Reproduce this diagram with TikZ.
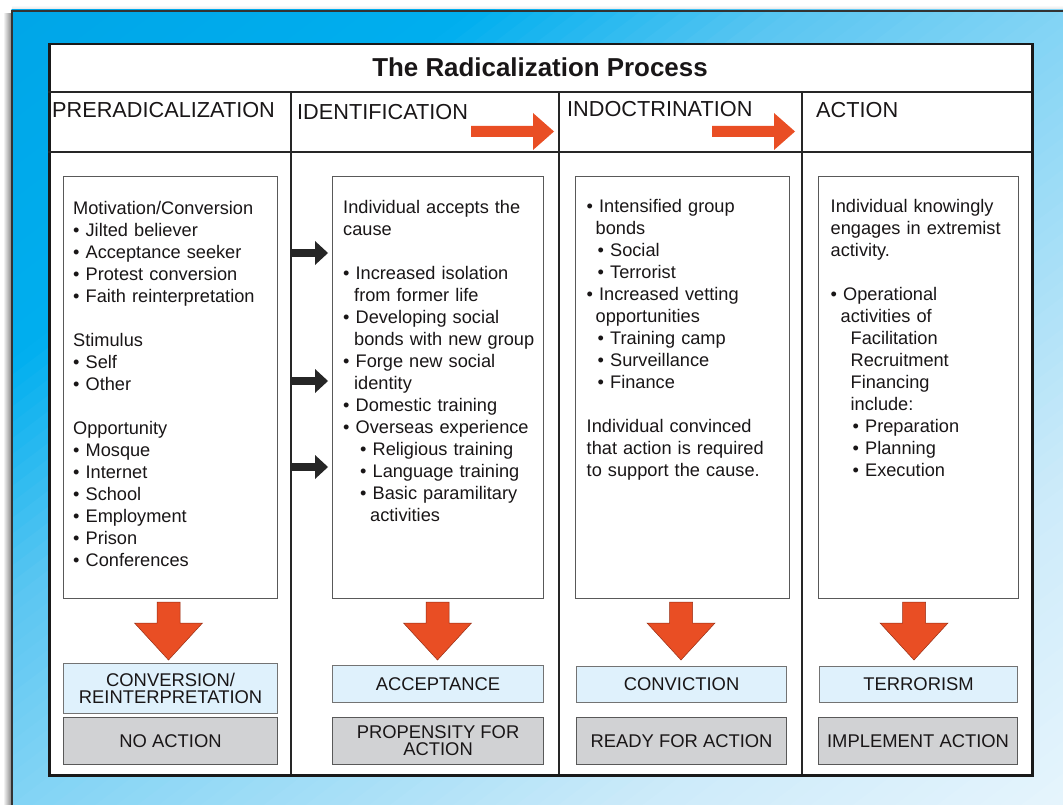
\documentclass[tikz,border=0pt]{standalone}
\usepackage{fontspec}
\setmainfont{Liberation Sans}
\definecolor{org}{RGB}{233,78,36}
\definecolor{orgd}{RGB}{150,45,20}
\definecolor{resblue}{RGB}{223,241,252}
\definecolor{resgray}{RGB}{209,210,212}
\definecolor{txt}{RGB}{25,22,23}
\begin{document}
\begin{tikzpicture}[x=1pt,y=-1pt,
  frameline/.style={line width=2pt, draw=black!85},
  cbox/.style={draw=black!65, line width=1.1pt, fill=white, inner sep=0pt, anchor=north west},
  rbox/.style={draw=black!55, line width=1.1pt, fill=resblue, inner sep=0pt, anchor=north west, align=center, text=txt, font=\fontsize{18.4}{17}\selectfont},
  gbox/.style={rbox, fill=resgray, draw=black!65},
  head/.style={anchor=base west, inner sep=0pt, text=txt, font=\fontsize{21.7}{25}\selectfont},
  body/.style={anchor=base west, inner sep=0pt, text=txt, text width=240pt, align=left, font=\fontsize{18.2}{22}\selectfont},
  orgarrow/.style={fill=org, draw=orgd, line width=0.5pt},
  blkarrow/.style={fill=black!85}
]
\useasboundingbox (0,0) rectangle (1063,805);
\fill[white] (0,0) rectangle (1063,805);
% shadow and blue panel
\shade[left color=white, right color=black!45] (3,14) rectangle (11,805);
\shade[top color=white, bottom color=black!12] (12,5) rectangle (1063,10);
\begin{scope}
  \clip (11,10) rectangle (1063,805);
  \foreach \i in {0,...,99}{
    \pgfmathsetmacro{\fa}{\i/100}
    \pgfmathsetmacro{\fb}{(\i+1.3)/100}
    \pgfmathsetmacro{\fm}{(\i+0.5)/100}
    \pgfmathtruncatemacro{\cR}{\fm<0.22 ? 0 : (\fm<0.37 ? 90*(\fm-0.22)/0.15 : (\fm<0.5 ? 90+40*(\fm-0.37)/0.13 : (\fm<0.8 ? 130+75*(\fm-0.5)/0.3 : 205+25*(\fm-0.8)/0.2)))}
    \pgfmathtruncatemacro{\cG}{\fm<0.22 ? 166+9*\fm/0.22 : (\fm<0.37 ? 175+23*(\fm-0.22)/0.15 : (\fm<0.5 ? 198+14*(\fm-0.37)/0.13 : (\fm<0.8 ? 212+23*(\fm-0.5)/0.3 : 235+10*(\fm-0.8)/0.2)))}
    \pgfmathtruncatemacro{\cB}{\fm<0.22 ? 232+7*\fm/0.22 : (\fm<0.37 ? 239+3*(\fm-0.22)/0.15 : (\fm<0.5 ? 242+3*(\fm-0.37)/0.13 : (\fm<0.8 ? 245+5*(\fm-0.5)/0.3 : 250+3*(\fm-0.8)/0.2)))}
    \definecolor{bandc}{RGB}{\cR,\cG,\cB}
    \fill[bandc] ({11+1052*(2*\fa+0.1)},-69.5) -- ({11+1052*(2*\fa-2.1)},1679.5)
       -- ({11+1052*(2*\fb-2.1)},1679.5) -- ({11+1052*(2*\fb+0.1)},-69.5) -- cycle;
  }
\end{scope}
\draw[black!80, line width=2pt] (12,805) -- (12,11) -- (1063,11);

% main frame
\node[draw=black!90, line width=2.5pt, fill=white, inner sep=0pt, anchor=north west,
      minimum width=983pt, minimum height=731pt] (frame) at (48,43) {};
\draw[frameline] (48,92) -- (1031,92);
\draw[frameline] (48,152) -- (1031,152);
\foreach \xx in {291,559,802} \draw[frameline] (\xx,92) -- (\xx,774);

% title and headers
\node[anchor=base, inner sep=0pt, text=txt, font=\bfseries\fontsize{25.9}{30}\selectfont] (title) at (540,77) {The Radicalization Process};
\node[head] (h1) at (52,118) {PRERADICALIZATION};
\node[head] (h2) at (297,119.5) {IDENTIFICATION};
\node[head] (h3) at (567,117) {INDOCTRINATION};
\node[head] (h4) at (816,118) {ACTION};

% header arrows
\foreach \dx in {0,241}
  \fill[org] (471+\dx,126) -- (533+\dx,126) -- (533+\dx,113) -- (554+\dx,131.5) -- (533+\dx,150) -- (533+\dx,137) -- (471+\dx,137) -- cycle;

% content boxes
\node[cbox, minimum width=213.5pt, minimum height=422pt] (b1) at (63,176) {};
\node[cbox, minimum width=211pt, minimum height=422pt] (b2) at (332,176) {};
\node[cbox, minimum width=214pt, minimum height=422pt] (b3) at (575,176) {};
\node[cbox, minimum width=200pt, minimum height=422pt] (b4) at (818,176) {};

% black arrows
\foreach \c in {253,381,467}
  \fill[blkarrow] (291,\c-3.8) -- (315,\c-3.8) -- (315,\c-12) -- (328,\c) -- (315,\c+12) -- (315,\c+3.8) -- (291,\c+3.8) -- cycle;

% texts
\node[body] (t1) at (73,214.7) {Motivation/Conversion\\
• Jilted believer\\
• Acceptance seeker\\
• Protest conversion\\
• Faith reinterpretation\\[22pt]
Stimulus\\
• Self\\
• Other\\[22pt]
Opportunity\\
• Mosque\\
• Internet\\
• School\\
• Employment\\
• Prison\\
• Conferences};

\node[body] (t2) at (343,213.2) {Individual accepts the\\
cause\\[22pt]
• Increased isolation\\
\hspace*{11pt}from former life\\
• Developing social\\
\hspace*{11pt}bonds with new group\\
• Forge new social\\
\hspace*{11pt}identity\\
• Domestic training\\
• Overseas experience\\
\hspace*{17pt}• Religious training\\
\hspace*{17pt}• Language training\\
\hspace*{17pt}• Basic paramilitary\\
\hspace*{27pt}activities};

\node[body] (t3) at (586.5,213) {• Intensified group\\
\hspace*{9pt}bonds\\
\hspace*{11pt}• Social\\
\hspace*{11pt}• Terrorist\\
• Increased vetting\\
\hspace*{9pt}opportunities\\
\hspace*{11pt}• Training camp\\
\hspace*{11pt}• Surveillance\\
\hspace*{11pt}• Finance\\[22pt]
Individual convinced\\
that action is required\\
to support the cause.};

\node[body] (t4) at (830.5,212.5) {Individual knowingly\\
engages in extremist\\
activity.\\[22pt]
• Operational\\
\hspace*{10pt}activities of\\
\hspace*{20pt}Facilitation\\
\hspace*{20pt}Recruitment\\
\hspace*{20pt}Financing\\
\hspace*{20pt}include:\\
\hspace*{22pt}• Preparation\\
\hspace*{22pt}• Planning\\
\hspace*{22pt}• Execution};

% down arrows
\foreach \cx in {168.5,437.5,681,914}
  \draw[orgarrow] (\cx-11.5,602) -- (\cx+11.5,602) -- (\cx+11.5,623) -- (\cx+34,623) -- (\cx,660) -- (\cx-34,623) -- (\cx-11.5,623) -- cycle;

% result boxes
\node[rbox, minimum width=214pt, minimum height=50pt] (r1) at (63,663) {CONVERSION/\\REINTERPRETATION};
\node[gbox, minimum width=214pt, minimum height=47pt] (g1) at (63,717) {NO ACTION};
\node[rbox, minimum width=211pt, minimum height=37pt] (r2) at (332,665) {ACCEPTANCE};
\node[gbox, minimum width=211pt, minimum height=47pt] (g2) at (332,717) {PROPENSITY FOR\\ACTION};
\node[rbox, minimum width=210pt, minimum height=36pt] (r3) at (576,666) {CONVICTION};
\node[gbox, minimum width=210pt, minimum height=47pt] (g3) at (576,717) {READY FOR ACTION};
\node[rbox, minimum width=198pt, minimum height=36pt] (r4) at (819,666) {TERRORISM};
\node[gbox, minimum width=199pt, minimum height=47pt] (g4) at (818,717) {IMPLEMENT ACTION};
\end{tikzpicture}
\end{document}
